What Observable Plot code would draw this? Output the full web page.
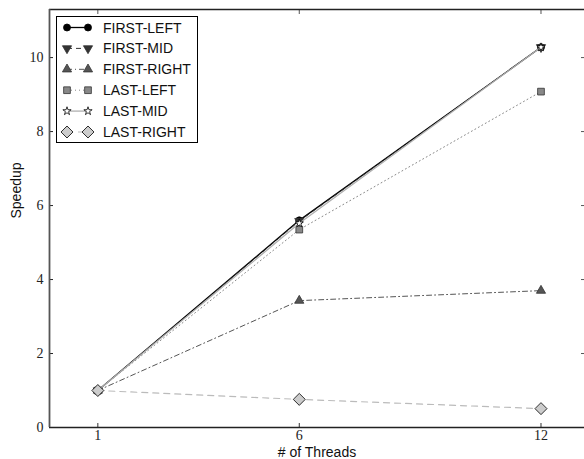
<!DOCTYPE html>
<html>
<head>
<meta charset="utf-8">
<script src="https://cdn.jsdelivr.net/npm/d3@7"></script>
<script src="https://cdn.jsdelivr.net/npm/@observablehq/plot@0.6"></script>
<style>
  html, body { margin: 0; padding: 0; background: #fff; }
  #wrap { position: relative; width: 584px; height: 459px; overflow: hidden; }
  #legend { position: absolute; left: 56px; top: 16px; }
</style>
</head>
<body>
<div id="wrap"></div>
<script>
const threads = [1, 6, 12];
const seriesNames = ["FIRST-LEFT", "FIRST-MID", "FIRST-RIGHT", "LAST-LEFT", "LAST-MID", "LAST-RIGHT"];
const firstLeft  = [1, 5.6, 10.28];
const firstMid   = [1, 5.58, 10.28];
const firstRight = [1, 3.43, 3.7];
const lastLeft   = [1, 5.35, 9.08];
const lastMid    = [1, 5.52, 10.28];
const lastRight  = [1, 0.76, 0.51];
const xTicks = [1, 6, 12];
const yTicks = [0, 2, 4, 6, 8, 10];

const values = [firstLeft, firstMid, firstRight, lastLeft, lastMid, lastRight];
const styles = [
  {line: "#000000", dash: null, width: 1.3, symbol: "circle", rotate: 0, fill: "#000000", stroke: "#000000", r: 3.5},
  {line: "#333333", dash: "5,4", width: 1, symbol: "triangle", rotate: 180, fill: "#333333", stroke: "#333333", r: 3.4},
  {line: "#555555", dash: "5,3,1,3", width: 1, symbol: "triangle", rotate: 0, fill: "#555555", stroke: "#333333", r: 3.4},
  {line: "#888888", dash: "1,3", width: 1, symbol: "square", rotate: 0, fill: "#888888", stroke: "#333333", r: 3.8},
  {line: "#b0b0b0", dash: null, width: 1.3, symbol: "star", rotate: 0, fill: "#ffffff", stroke: "#000000", r: 2.6},
  {line: "#bbbbbb", dash: "6,5", width: 1.2, symbol: "diamond2", rotate: 0, fill: "#cccccc", stroke: "#000000", r: 5.4}
];

const rows = [];
seriesNames.forEach((s, i) => threads.forEach((t, j) => rows.push({series: s, threads: t, speedup: values[i][j]})));

const xDomain = [-0.2, 13.08];
const yDomain = [0, 11.3];

const marks = [];
seriesNames.forEach((s, i) => {
  const st = styles[i];
  const d = rows.filter(r => r.series === s);
  marks.push(Plot.line(d, {x: "threads", y: "speedup", stroke: st.line, strokeWidth: st.width, strokeDasharray: st.dash}));
  marks.push(Plot.dot(d, {x: "threads", y: "speedup", symbol: () => st.symbol, r: st.r, rotate: st.rotate, fill: st.fill, stroke: st.stroke, strokeWidth: 0.8}));
});

const chart = Plot.plot({
  width: 584,
  height: 459,
  marginLeft: 49,
  marginRight: 0,
  marginTop: 9,
  marginBottom: 32,
  style: {background: "#fff", overflow: "visible"},
  x: {domain: xDomain, axis: null},
  y: {domain: yDomain, axis: null},
  symbol: {type: "identity"},
  marks: [
    Plot.axisX({anchor: "bottom", ticks: xTicks, tickSize: -4, tickPadding: 7, stroke: "#333", fontFamily: "Liberation Serif", fontSize: 14, fill: "#222", label: null}),
    Plot.axisX({anchor: "top", ticks: xTicks, tickSize: -4, tickFormat: () => "", stroke: "#555", label: null}),
    Plot.axisY({anchor: "left", ticks: yTicks, tickSize: -4, tickPadding: 10, stroke: "#222", fontFamily: "Liberation Serif", fontSize: 14, fill: "#222", label: null}),
    Plot.axisY({anchor: "right", ticks: yTicks, tickSize: -4, tickFormat: () => "", stroke: "#555", label: null}),
    Plot.ruleY([yDomain[0]], {stroke: "#222", strokeWidth: 1.5}),
    Plot.ruleY([yDomain[1]], {stroke: "#222", strokeWidth: 1.5}),
    Plot.ruleX([xDomain[0]], {stroke: "#555", strokeWidth: 1.8}),
    ...marks,
    Plot.text(["# of Threads"], {frameAnchor: "bottom", dy: 29, fontFamily: "Liberation Sans", fontSize: 14, fill: "#111"}),
    Plot.text(["Speedup"], {frameAnchor: "left", dx: -33, rotate: -90, fontFamily: "Liberation Sans", fontSize: 14, fill: "#111"})
  ]
});
document.getElementById("wrap").appendChild(chart);

// Legend
const lw = 142, lh = 127;
const legend = d3.select("#wrap").append("svg").attr("id", "legend")
  .attr("width", lw).attr("height", lh);
legend.append("rect").attr("x", 0.5).attr("y", 0.5).attr("width", lw - 1).attr("height", lh - 1)
  .attr("fill", "#fff").attr("stroke", "#000").attr("stroke-width", 1);
const symMap = {circle: d3.symbolCircle, triangle: d3.symbolTriangle, square: d3.symbolSquare, star: d3.symbolStar, diamond2: d3.symbolDiamond2};
seriesNames.forEach((s, i) => {
  const st = styles[i];
  const y = 11.5 + i * 20.9;
  const g = legend.append("g");
  g.append("line").attr("x1", 11).attr("x2", 32).attr("y1", y).attr("y2", y)
    .attr("stroke", st.line).attr("stroke-width", st.width).attr("stroke-dasharray", st.dash);
  [11, 32].forEach(x => {
    g.append("path").attr("d", d3.symbol(symMap[st.symbol], st.r * st.r * Math.PI)())
      .attr("transform", `translate(${x},${y}) rotate(${st.rotate})`)
      .attr("fill", st.fill).attr("stroke", st.stroke).attr("stroke-width", 0.8);
  });
  g.append("text").attr("x", 47).attr("y", y + 5).text(s)
    .attr("font-family", "Liberation Sans").attr("font-size", 14).attr("fill", "#111");
});
</script>
</body>
</html>
